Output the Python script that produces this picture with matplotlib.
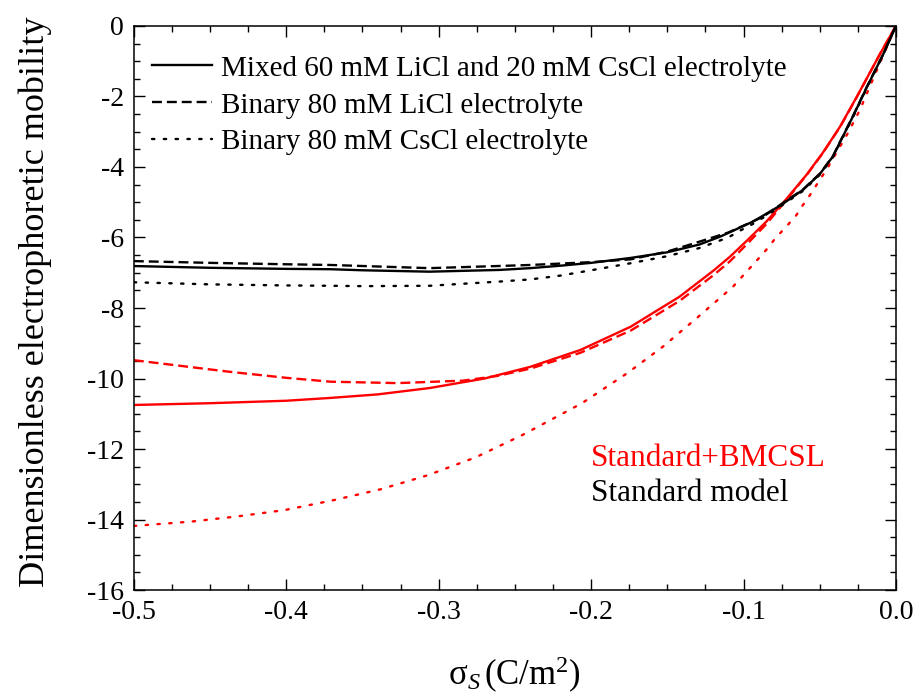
import matplotlib
matplotlib.use("Agg")
import matplotlib.pyplot as plt
from matplotlib.ticker import MultipleLocator

plt.rcParams["font.family"] = ["Liberation Serif", "DejaVu Serif"]
plt.rcParams["mathtext.fontset"] = "custom"
plt.rcParams["mathtext.rm"] = "Liberation Serif"
plt.rcParams["mathtext.it"] = "Liberation Serif:italic"

# ── Standard model (black) ────────────────────────────────────────────────
mixed_std_x = [-0.5, -0.45, -0.4, -0.371, -0.35, -0.306, -0.26, -0.24, -0.22, -0.2,
               -0.174, -0.15, -0.129, -0.1155, -0.0938, -0.0761, -0.061, -0.0499,
               -0.0413, -0.0367, -0.028, -0.0192, -0.0085, 0.0]
mixed_std_y = [-6.81, -6.86, -6.89, -6.9, -6.93, -6.97, -6.92, -6.87, -6.8, -6.72,
               -6.58, -6.42, -6.2, -5.98, -5.55, -5.1, -4.65, -4.2,
               -3.7, -3.3, -2.55, -1.75, -0.82, 0.0]

li_std_x = [-0.5, -0.45, -0.4, -0.371, -0.306, -0.254, -0.24, -0.2, -0.174, -0.15,
            -0.129, -0.11, -0.0875, -0.0761, -0.061, -0.0499, -0.0413, -0.0367,
            -0.028, -0.0192, -0.0085, 0.0]
li_std_y = [-6.67, -6.72, -6.76, -6.78, -6.87, -6.8, -6.78, -6.7, -6.62, -6.4,
            -6.12, -5.86, -5.42, -5.08, -4.64, -4.19, -3.69, -3.29,
            -2.54, -1.74, -0.82, 0.0]

cs_std_x = [-0.5, -0.45, -0.4, -0.371, -0.35, -0.306, -0.26, -0.24, -0.22, -0.2,
            -0.174, -0.15, -0.129, -0.11, -0.102, -0.094, -0.086, -0.0761, -0.061,
            -0.0499, -0.0413, -0.0367, -0.028, -0.0192, -0.0085, 0.0]
cs_std_y = [-7.27, -7.33, -7.36, -7.37, -7.38, -7.37, -7.25, -7.19, -7.08, -6.93,
            -6.73, -6.53, -6.3, -6.0, -5.8, -5.62, -5.41, -5.13, -4.68,
            -4.22, -3.72, -3.32, -2.57, -1.77, -0.83, 0.0]

# ── Standard + BMCSL (red) ────────────────────────────────────────────────
mixed_bm_x = [-0.5, -0.45, -0.4, -0.371, -0.34, -0.306, -0.27, -0.24, -0.207, -0.174,
              -0.142, -0.12, -0.109, -0.098, -0.085, -0.0717, -0.0586, -0.048,
              -0.0367, -0.0258, -0.0105, 0.0]
mixed_bm_y = [-10.75, -10.7, -10.63, -10.55, -10.45, -10.27, -10.0, -9.67, -9.19, -8.53,
              -7.68, -6.95, -6.55, -6.1, -5.55, -4.9, -4.22, -3.6,
              -2.86, -2.02, -0.8, 0.0]

li_bm_x = [-0.5, -0.437, -0.4, -0.371, -0.327, -0.284, -0.262, -0.24, -0.207, -0.174,
           -0.142, -0.12, -0.109, -0.098, -0.085, -0.0717, -0.0586, -0.048,
           -0.0367, -0.0258, -0.0105, 0.0]
li_bm_y = [-9.48, -9.81, -9.98, -10.09, -10.13, -10.06, -9.93, -9.72, -9.27, -8.64,
           -7.8, -7.08, -6.68, -6.2, -5.62, -4.93, -4.23, -3.61,
           -2.87, -2.03, -0.8, 0.0]

cs_bm_x = [-0.5, -0.463, -0.432, -0.401, -0.369, -0.338, -0.307, -0.276, -0.245, -0.206,
           -0.176, -0.153, -0.13, -0.107, -0.086, -0.079, -0.0728, -0.066, -0.061,
           -0.0553, -0.0505, -0.0453, -0.0407, -0.0315, -0.0236, -0.012, 0.0]
cs_bm_y = [-14.18, -14.06, -13.91, -13.73, -13.45, -13.14, -12.74, -12.24, -11.6, -10.7,
           -9.84, -9.1, -8.26, -7.4, -6.4, -6.02, -5.73, -5.41, -5.08,
           -4.73, -4.4, -4.06, -3.72, -3.04, -2.38, -1.2, 0.0]

legend_labels = ["Mixed 60 mM LiCl and 20 mM CsCl electrolyte",
                 "Binary 80 mM LiCl electrolyte",
                 "Binary 80 mM CsCl electrolyte"]

LW = 1.7
DASHED = (0, (4.2, 2.1))
DOTTED = (0, (1, 4.0))

fig = plt.figure(figsize=(9.17, 7.0), dpi=100)
ax = fig.add_axes([0.146, 0.157, 0.831, 0.806])

# red curves first so black sits on top where they overlap
ax.plot(mixed_bm_x, mixed_bm_y, color="red", lw=LW, ls="-")
ax.plot(li_bm_x, li_bm_y, color="red", lw=LW, ls=DASHED)
ax.plot(cs_bm_x, cs_bm_y, color="red", lw=LW, ls=DOTTED, dash_capstyle="round")

h1, = ax.plot(mixed_std_x, mixed_std_y, color="black", lw=LW, ls="-")
h2, = ax.plot(li_std_x, li_std_y, color="black", lw=LW, ls=DASHED)
h3, = ax.plot(cs_std_x, cs_std_y, color="black", lw=LW, ls=DOTTED, dash_capstyle="round")

ax.set_xlim(-0.5, 0.0)
ax.set_ylim(-16, 0)
ax.xaxis.set_minor_locator(MultipleLocator(0.025))
ax.yaxis.set_minor_locator(MultipleLocator(0.5))
ax.set_xticks([-0.5, -0.4, -0.3, -0.2, -0.1, 0.0])
ax.set_xticklabels(["-0.5", "-0.4", "-0.3", "-0.2", "-0.1", "0.0"])
ax.set_yticks(range(-16, 1, 2))
ax.set_yticklabels([str(v) for v in range(-16, 1, 2)])
ax.tick_params(which="both", direction="in", top=True, right=True, width=1.0)
ax.tick_params(which="major", length=8, labelsize=20, pad=7)
ax.tick_params(which="minor", length=4.5)
for s in ax.spines.values():
    s.set_linewidth(1.1)

ax.set_xlabel(r"$\mathrm{\sigma}_{\mathit{S}}\,$(C/m$^{2}$)", fontsize=25)
ax.xaxis.set_label_coords(0.5, -0.115)
ax.set_ylabel("Dimensionless electrophoretic mobility", fontsize=26)
ax.yaxis.set_label_coords(-0.108, 0.511)

ax.legend([h1, h2, h3], legend_labels, loc="upper left",
          bbox_to_anchor=(0.024, 0.948), frameon=False, fontsize=21,
          handlelength=2.05, handletextpad=0.3, labelspacing=0.36,
          borderpad=0, borderaxespad=0)

ax.text(0.600, 0.234, "Standard+BMCSL", color="red", fontsize=22.5,
        transform=ax.transAxes, ha="left", va="center")
ax.text(0.600, 0.172, "Standard model", color="black", fontsize=22.5,
        transform=ax.transAxes, ha="left", va="center")

fig.savefig("out.png", dpi=100)
